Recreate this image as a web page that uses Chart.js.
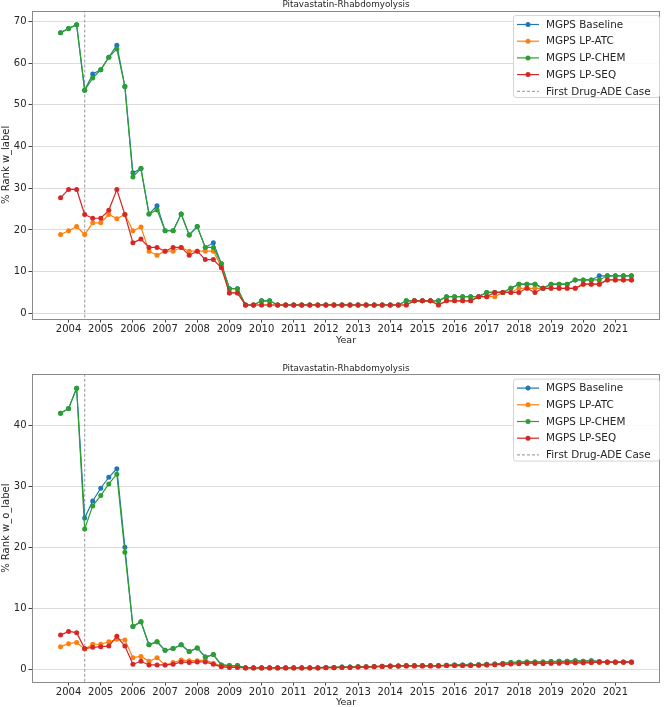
<!DOCTYPE html>
<html><head><meta charset="utf-8">
<script src="https://cdn.jsdelivr.net/npm/chart.js@4.4.1/dist/chart.umd.min.js"></script>
<style>
html,body{margin:0;padding:0;background:#fff;overflow:hidden;width:664px;height:707px}
canvas{position:absolute;left:0}
</style></head><body>
<canvas id="c1" width="664" height="350" style="top:0px"></canvas>
<canvas id="c2" width="664" height="357" style="top:350px"></canvas>
<script>
// ---- data ----
const quarters = [2003.75,2004,2004.25,2004.5,2004.75,2005,2005.25,2005.5,2005.75,2006,
  2006.25,2006.5,2006.75,2007,2007.25,2007.5,2007.75,2008,2008.25,2008.5,
  2008.75,2009,2009.25,2009.5,2009.75,2010,2010.25,2010.5,2010.75,2011,
  2011.25,2011.5,2011.75,2012,2012.25,2012.5,2012.75,2013,2013.25,2013.5,
  2013.75,2014,2014.25,2014.5,2014.75,2015,2015.25,2015.5,2015.75,2016,
  2016.25,2016.5,2016.75,2017,2017.25,2017.5,2017.75,2018,2018.25,2018.5,
  2018.75,2019,2019.25,2019.5,2019.75,2020,2020.25,2020.5,2020.75,2021,
  2021.25,2021.5];
const yearTicks = [2004,2005,2006,2007,2008,2009,2010,2011,2012,2013,2014,2015,2016,2017,2018,2019,2020,2021];
const topYTicks = [0,10,20,30,40,50,60,70];
const bottomYTicks = [0,10,20,30,40];
const firstCase = 2004.5;
const seriesNames = ['MGPS Baseline','MGPS LP-ATC','MGPS LP-CHEM','MGPS LP-SEQ'];
const caseLabel = 'First Drug-ADE Case';
const chartTitle = 'Pitavastatin-Rhabdomyolysis';

// % Rank w_label
const wBaseline = [67.3,68.3,69.2,53.5,57.4,58.4,61.4,64.3,54.4,33.7,
  34.7,23.8,25.8,19.8,19.8,23.8,18.8,20.8,15.8,16.9,
  11.9,5.9,5.9,2,2,3,3,2,2,2,
  2,2,2,2,2,2,2,2,2,2,
  2,2,2,3,3,3,3,3,4,4,
  4,4,4,5,5,5,6,7,7,7,
  6,7,7,7,8,8,8,9,9,9,
  9,9];
const wAtc = [18.9,19.8,20.8,18.9,21.7,21.7,23.7,22.7,23.7,19.8,
  20.7,14.9,13.9,14.9,14.9,15.8,14.9,14.9,14.9,14.9,
  11.2,4.9,4.9,2,2,2,2,2,2,2,
  2,2,2,2,2,2,2,2,2,2,
  2,2,2,2,3,3,3,2,3,3,
  3,3,4,4,4,5,5,6,6,6,
  6,6,6,6,6,7,7,7,8,8,
  8,8];
const wChem = [67.3,68.3,69.2,53.5,56.4,58.4,61.4,63.4,54.4,32.7,
  34.7,23.8,24.8,19.8,19.8,23.8,18.8,20.8,15.8,15.8,
  11.9,5.9,5.9,2,2,3,3,2,2,2,
  2,2,2,2,2,2,2,2,2,2,
  2,2,2,3,3,3,3,3,4,4,
  4,4,4,5,5,5,6,7,7,7,
  6,7,7,7,8,8,8,8,9,9,
  9,9];
const wSeq = [27.7,29.7,29.7,23.7,22.8,22.8,24.7,29.7,23.7,16.9,
  17.8,15.8,15.8,14.9,15.8,15.8,13.9,14.9,12.9,12.9,
  10.9,4.9,4.9,2,2,2,2,2,2,2,
  2,2,2,2,2,2,2,2,2,2,
  2,2,2,2,3,3,3,2,3,3,
  3,3,4,4,5,5,5,5,6,5,
  6,6,6,6,6,7,7,7,8,8,
  8,8];

// % Rank w_o_label
const woBaseline = [42.0,42.8,46.1,24.8,27.6,29.7,31.5,32.9,20.0,7.0,
  7.8,4.0,4.5,3.1,3.4,4.0,2.9,3.5,2.0,2.4,
  0.7,0.6,0.6,0.25,0.25,0.25,0.25,0.25,0.25,0.25,
  0.25,0.25,0.25,0.3,0.3,0.35,0.35,0.4,0.4,0.45,
  0.5,0.55,0.55,0.6,0.6,0.6,0.6,0.6,0.65,0.7,
  0.7,0.7,0.75,0.8,0.85,0.95,1.1,1.15,1.2,1.2,
  1.2,1.25,1.3,1.3,1.4,1.3,1.4,1.25,1.2,1.2,
  1.2,1.2];
const woAtc = [3.7,4.2,4.4,3.3,4.1,4.1,4.5,4.9,4.8,1.9,
  2.1,1.3,1.9,0.7,1.1,1.5,1.4,1.4,1.5,1.0,
  0.5,0.4,0.4,0.2,0.2,0.2,0.2,0.2,0.2,0.2,
  0.2,0.2,0.2,0.25,0.25,0.3,0.3,0.35,0.35,0.4,
  0.45,0.5,0.55,0.55,0.55,0.55,0.55,0.55,0.6,0.6,
  0.6,0.6,0.65,0.7,0.75,0.8,0.9,0.95,1.0,1.0,
  1.0,1.0,1.05,1.05,1.05,1.1,1.1,1.15,1.15,1.15,
  1.15,1.15];
const woChem = [42.0,42.8,46.1,23.0,26.8,28.5,30.4,32.0,19.2,7.0,
  7.8,4.0,4.5,3.1,3.4,4.0,2.9,3.5,2.0,2.4,
  0.7,0.6,0.6,0.25,0.25,0.25,0.25,0.25,0.25,0.25,
  0.25,0.25,0.25,0.3,0.3,0.35,0.35,0.4,0.4,0.45,
  0.5,0.55,0.55,0.6,0.6,0.6,0.6,0.6,0.65,0.7,
  0.7,0.7,0.75,0.8,0.85,0.95,1.1,1.15,1.2,1.2,
  1.2,1.25,1.3,1.3,1.4,1.3,1.4,1.25,1.2,1.2,
  1.2,1.2];
const woSeq = [5.6,6.2,6.0,3.4,3.6,3.7,3.8,5.4,3.8,0.8,
  1.3,0.7,0.7,0.7,0.8,1.2,1.1,1.2,1.2,0.8,
  0.4,0.3,0.3,0.2,0.2,0.2,0.2,0.2,0.2,0.2,
  0.2,0.2,0.2,0.25,0.25,0.3,0.3,0.35,0.35,0.4,
  0.45,0.5,0.55,0.55,0.55,0.55,0.55,0.55,0.6,0.6,
  0.6,0.6,0.65,0.7,0.75,0.8,0.85,0.9,1.0,1.0,
  0.95,1.0,1.0,1.05,1.05,1.05,1.1,1.15,1.15,1.15,
  1.15,1.15];

// ---- styling ----
const colors = ['#1f77b4','#ff7f0e','#2ca02c','#d62728'];
const FONT = 'DejaVu Sans';
const TXT = '#262626';

const framePlugin = {
  id: 'frame',
  afterDraw(chart, args, opts) {
    const {ctx, chartArea: a} = chart;
    ctx.save();
    ctx.strokeStyle = '#8a8a8a';
    ctx.lineWidth = 1;
    ctx.strokeRect(Math.round(a.left) + 0.5, Math.round(a.top) + 0.5, Math.round(a.right - a.left) - 1, Math.round(a.bottom - a.top));
    // title
    ctx.fillStyle = TXT;
    ctx.font = '8.8px "' + FONT + '"';
    ctx.textAlign = 'center';
    ctx.textBaseline = 'alphabetic';
    ctx.fillText(opts.text, (a.left + a.right) / 2, a.top - 3.5);
    // legend
    const bw = 146, bh = 82;
    const bx = a.right - bw - 1, by = a.top + 4.3;
    ctx.beginPath();
    if (ctx.roundRect) ctx.roundRect(bx + 0.5, by + 0.5, bw, bh, 2.5); else ctx.rect(bx + 0.5, by + 0.5, bw, bh);
    ctx.fillStyle = 'rgba(255,255,255,0.85)';
    ctx.fill();
    ctx.strokeStyle = '#d6d6d6';
    ctx.stroke();
    const ds = chart.data.datasets;
    const orderIdx = [0, 1, 2, 3, 4];
    ctx.font = '10.4px "' + FONT + '"';
    ctx.textAlign = 'left';
    ctx.textBaseline = 'middle';
    orderIdx.forEach((k, j) => {
      const d = ds[k];
      const y = by + 9.5 + j * 16.7;
      ctx.save();
      ctx.strokeStyle = d.borderColor;
      ctx.lineWidth = d.borderWidth;
      if (d.borderDash) ctx.setLineDash(d.borderDash);
      ctx.beginPath();
      ctx.moveTo(bx + 4, y);
      ctx.lineTo(bx + 26, y);
      ctx.stroke();
      ctx.restore();
      if (d.pointRadius > 0) {
        ctx.beginPath();
        ctx.arc(bx + 15, y, d.pointRadius, 0, Math.PI * 2);
        ctx.fillStyle = d.borderColor;
        ctx.fill();
      }
      ctx.fillStyle = TXT;
      ctx.fillText(d.label, bx + 33, y + 0.5);
    });
    ctx.restore();
  }
};

function build(id, series, yLabel, yTicks, areaTop, xScaleH, yearPad) {
  const all = series.flat();
  const lo = Math.min(...all), hi = Math.max(...all), pad = (hi - lo) * 0.05;
  const datasets = series.map((vals, k) => ({
    label: seriesNames[k],
    data: quarters.map((q, i) => ({x: q, y: vals[i]})),
    borderColor: colors[k],
    backgroundColor: colors[k],
    pointBackgroundColor: colors[k],
    pointBorderColor: colors[k],
    pointBorderWidth: 0,
    pointRadius: 2.5,
    borderWidth: 1.2,
    tension: 0,
    order: 4 - k
  }));
  datasets.push({
    label: caseLabel,
    data: [{x: firstCase, y: lo - pad - 50}, {x: firstCase, y: hi + pad + 50}],
    borderColor: '#a8a8a8',
    backgroundColor: '#a8a8a8',
    borderDash: [3, 2],
    borderWidth: 1.2,
    pointRadius: 0,
    order: 5
  });
  return new Chart(document.getElementById(id), {
    type: 'line',
    data: {datasets},
    options: {
      responsive: false,
      animation: false,
      devicePixelRatio: 1,
      layout: {padding: {top: areaTop, right: 1, left: 0, bottom: 0}},
      plugins: {
        legend: {display: false},
        tooltip: {enabled: false},
        title: {display: false},
        frame: {text: chartTitle}
      },
      scales: {
        x: {
          type: 'linear',
          min: 2002.8625,
          max: 2022.3875,
          afterBuildTicks: s => { s.ticks = yearTicks.map(v => ({value: v})); },
          afterFit: s => { s.height = xScaleH; },
          grid: {drawOnChartArea: false, drawTicks: true, tickLength: 3.5, tickColor: '#444', tickWidth: 1},
          border: {display: false},
          ticks: {font: {family: FONT, size: 10}, color: TXT, padding: 1, maxRotation: 0, autoSkip: false, callback: v => String(v)},
          title: {display: true, text: 'Year', font: {family: FONT, size: 9.5}, color: TXT, padding: {top: 0, bottom: yearPad}}
        },
        y: {
          min: lo - pad,
          max: hi + pad,
          afterBuildTicks: s => { s.ticks = yTicks.map(v => ({value: v})); },
          afterFit: s => { s.width = 32; },
          grid: {color: '#dcdcdc', lineWidth: 1, tickColor: '#444', tickLength: 3.5},
          border: {display: false},
          ticks: {font: {family: FONT, size: 10}, color: TXT, padding: 2, callback: v => String(v)},
          title: {display: true, text: yLabel, font: {family: FONT, size: 10}, color: TXT, padding: {top: 0.5, bottom: 0}}
        }
      }
    },
    plugins: [framePlugin]
  });
}

build('c1', [wBaseline, wAtc, wChem, wSeq], '% Rank w_label', topYTicks, 10.7, 31, 4.2);
build('c2', [woBaseline, woAtc, woChem, woSeq], '% Rank w_o_label', bottomYTicks, 24.3, 25, -1.2);
</script>
</body></html>
